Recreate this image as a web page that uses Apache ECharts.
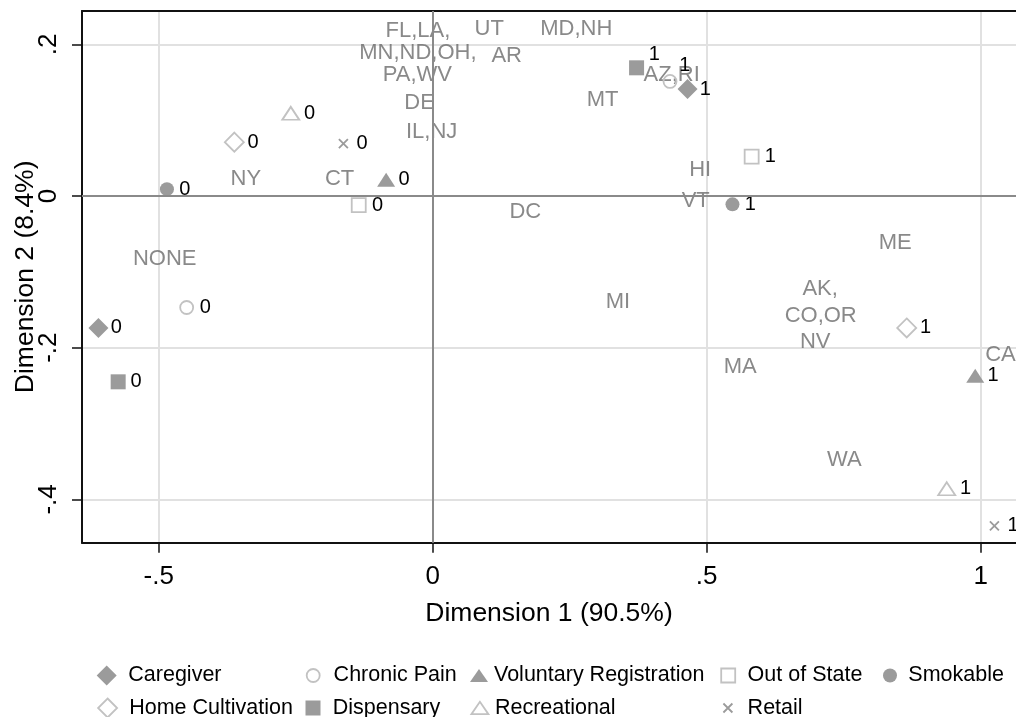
<!DOCTYPE html>
<html><head><meta charset="utf-8">
<script src="https://cdn.jsdelivr.net/npm/echarts@6/dist/echarts.min.js"></script>
<style>html,body{margin:0;padding:0;background:#fff}#c{width:1016px;height:717px}</style>
</head><body><div id="c"></div>
<script>
// ---------- data ----------
const stateNames = ['FL,LA,','MN,ND,OH,','PA,WV','DE','IL,NJ','NY','CT','UT','MD,NH','AR','AZ,RI','MT','HI','VT','DC','ME','NONE','MI','AK,','CO,OR','NV','MA','CA','WA'];
const stateX = [-0.027,-0.027,-0.028,-0.024,-0.002,-0.341,-0.170,0.103,0.262,0.135,0.436,0.310,0.488,0.480,0.169,0.844,-0.489,0.338,0.707,0.708,0.698,0.561,1.036,0.751];
const stateY = [0.217,0.188,0.159,0.123,0.084,0.023,0.023,0.220,0.220,0.184,0.160,0.127,0.035,-0.006,-0.021,-0.062,-0.083,-0.140,-0.123,-0.158,-0.192,-0.226,-0.210,-0.348];

const categories = ['Caregiver','Home Cultivation','Chronic Pain','Dispensary','Voluntary Registration','Recreational','Out of State','Retail','Smokable'];
const pointLabels = ['0','1'];
const caregiverX = [-0.610, 0.465];       const caregiverY = [-0.174, 0.141];
const homeCultivationX = [-0.362, 0.865]; const homeCultivationY = [0.071, -0.174];
const chronicPainX = [-0.449, 0.433];     const chronicPainY = [-0.147, 0.151];
const dispensaryX = [-0.574, 0.372];      const dispensaryY = [-0.245, 0.169];
const voluntaryX = [-0.085, 0.990];       const voluntaryY = [0.0215, -0.237];
const recreationalX = [-0.259, 0.938];    const recreationalY = [0.109, -0.386];
const outOfStateX = [-0.135, 0.582];      const outOfStateY = [-0.012, 0.052];
const retailX = [-0.163, 1.025];          const retailY = [0.069, -0.435];
const smokableX = [-0.485, 0.547];        const smokableY = [0.009, -0.011];

const xTicks = [-0.5, 0, 0.5, 1];
const yTicks = [-0.4, -0.2, 0, 0.2];
const xTitle = 'Dimension 1 (90.5%)';
const yTitle = 'Dimension 2 (8.4%)';

// ---------- style ----------
const FONT = "'Liberation Sans', Arial, Helvetica, sans-serif";
const DARK = '#9b9b9b', LIGHT = '#c2c2c2';
const TRI = 'path://M9,0L18,13L0,13Z';
const XMARK = 'path://M0,0L10,10M10,0L0,10';
const catXY = {
  'Caregiver': [caregiverX, caregiverY],
  'Home Cultivation': [homeCultivationX, homeCultivationY],
  'Chronic Pain': [chronicPainX, chronicPainY],
  'Dispensary': [dispensaryX, dispensaryY],
  'Voluntary Registration': [voluntaryX, voluntaryY],
  'Recreational': [recreationalX, recreationalY],
  'Out of State': [outOfStateX, outOfStateY],
  'Retail': [retailX, retailY],
  'Smokable': [smokableX, smokableY]
};
const catStyle = {
  'Caregiver': {symbol:'diamond', size:20, fill:DARK, stroke:DARK, bw:0, w:20, legendIcon:'diamond', lh:20, cx:106.7, tx:128.3, row:0},
  'Home Cultivation': {symbol:'diamond', size:19, fill:'rgba(0,0,0,0)', stroke:LIGHT, bw:1.8, w:19, legendIcon:'diamond', lh:19, cx:106.7, tx:128.3, row:1},
  'Chronic Pain': {symbol:'circle', size:13, fill:'rgba(0,0,0,0)', stroke:LIGHT, bw:1.8, w:13, legendIcon:'circle', lh:13, cx:312.3, tx:332.7, row:0},
  'Dispensary': {symbol:'rect', size:15, fill:DARK, stroke:DARK, bw:0, w:15, legendIcon:'rect', lh:15, cx:313, tx:332.7, row:1},
  'Voluntary Registration': {symbol:'triangle', size:[18,14], fill:DARK, stroke:DARK, bw:0, w:18, legendIcon:TRI, lh:13, cx:479, tx:494, row:0},
  'Recreational': {symbol:'triangle', size:[17,13], fill:'rgba(0,0,0,0)', stroke:LIGHT, bw:1.8, w:17, legendIcon:TRI, lh:13, cx:479, tx:494, row:1},
  'Out of State': {symbol:'rect', size:14, fill:'rgba(0,0,0,0)', stroke:LIGHT, bw:1.8, w:14, legendIcon:'rect', lh:14, cx:727.3, tx:746.7, row:0},
  'Retail': {symbol:XMARK, size:9, fill:'rgba(0,0,0,0)', stroke:DARK, bw:1.8, w:9, legendIcon:XMARK, lh:9, cx:727, tx:746.7, row:1},
  'Smokable': {symbol:'circle', size:14, fill:DARK, stroke:DARK, bw:0, w:14, legendIcon:'circle', lh:14, cx:890, tx:908.3, row:0}
};
const labelOffsets = { 'Dispensary': {1:[0,-13]}, 'Chronic Pain': {1:[-4,-16]} };
const rowTop = [664.5, 697];

// axis extents from plot frame
const xMin = -0.640, xMax = 1.0644;
const yMin = -0.4571, yMax = 0.2439;

function stataFmt(v){
  if (Math.abs(v) < 1e-9) return '0';
  const s = String(Math.round(v*100)/100);
  return s.replace(/^(-?)0\./, '$1.');
}

const series = [];
// zero reference lines
series.push({
  type:'scatter', data:[], z:1, silent:true,
  markLine:{silent:true, symbol:['none','none'], label:{show:false}, animation:false,
    lineStyle:{color:'#8a8a8a', width:2, type:'solid'},
    emphasis:{disabled:true},
    data:[{xAxis:0},{yAxis:0}]}
});
// states (labels only)
series.push({
  type:'scatter', name:'states', z:3, silent:true,
  symbolSize:1, itemStyle:{color:'rgba(0,0,0,0)'},
  label:{show:true, position:'inside', formatter:p=>p.data[2], color:'#6b6b6b', fontSize:22, fontFamily:FONT},
  data: stateNames.map((n,i)=>[stateX[i], stateY[i], n])
});
categories.forEach(c=>{
  const st = catStyle[c];
  const [xs, ys] = catXY[c];
  const off = labelOffsets[c] || {};
  series.push({
    type:'scatter', name:c, z:4,
    symbol: st.symbol, symbolSize: st.size,
    itemStyle:{color:st.fill, borderColor:st.stroke, borderWidth:st.bw, opacity:1},
    label:{show:true, position:'right', distance: Math.max(0, 12.3 - st.w/2), formatter:p=>p.data.value ? p.data.value[2] : p.data[2],
      color:'#000', fontSize:20, fontFamily:FONT},
    data: xs.map((x,i)=>{
      const v = [x, ys[i], pointLabels[i]];
      return off[i] ? {value:v, label:{offset:off[i]}} : {value:v};
    })
  });
});

const legends = categories.map(c=>{
  const st = catStyle[c];
  const pad = Math.max(0, st.tx - st.cx - st.w/2 - 5);
  return {
    show:true, orient:'horizontal', padding:0, selectedMode:false,
    left: st.cx - st.w/2, top: rowTop[st.row],
    itemWidth: st.w, itemHeight: st.lh, symbolKeepAspect:true,
    textStyle:{fontSize:21.5, color:'#000', fontFamily:FONT, padding:[0,0,0,pad]},
    data:[{name:c, icon:st.legendIcon, itemStyle:{color:st.fill, borderColor:st.stroke, borderWidth:st.bw}}]
  };
});

const axisLineStyle = {color:'#111', width:2};
const option = {
  backgroundColor:'#fff',
  animation:false,
  textStyle:{fontFamily:FONT},
  grid:{left:82, top:11, right:0, bottom:174.3, containLabel:false, outerBoundsMode:'none'},
  legend: legends,
  xAxis:[{
    type:'value', position:'bottom', min:xMin, max:xMax,
    axisLine:{show:true, onZero:false, lineStyle:axisLineStyle},
    axisTick:{show:true, length:10, customValues:xTicks, lineStyle:{color:'#111', width:1.5}},
    axisLabel:{customValues:xTicks, formatter:stataFmt, fontSize:26, color:'#000', margin:21, fontFamily:FONT},
    splitLine:{show:true, lineStyle:{color:'#e1e1e1', width:2}},
    name:xTitle, nameLocation:'middle', nameGap:57, nameMoveOverlap:false,
    nameTextStyle:{fontSize:26.5, color:'#000', fontFamily:FONT}
  },{
    type:'value', position:'top', min:xMin, max:xMax,
    axisLine:{show:true, onZero:false, lineStyle:axisLineStyle},
    axisTick:{show:false}, axisLabel:{show:false}, splitLine:{show:false}
  }],
  yAxis:[{
    type:'value', min:yMin, max:yMax,
    axisLine:{show:true, onZero:false, lineStyle:axisLineStyle},
    axisTick:{show:true, length:10, customValues:yTicks, lineStyle:{color:'#111', width:1.5}},
    axisLabel:{customValues:yTicks, formatter:stataFmt, rotate:90, fontSize:26, color:'#000', margin:20, fontFamily:FONT},
    splitLine:{show:true, lineStyle:{color:'#e1e1e1', width:2}},
    name:yTitle, nameLocation:'middle', nameGap:43, nameRotate:90, nameMoveOverlap:false,
    nameTextStyle:{fontSize:26.5, color:'#000', fontFamily:FONT}
  }],
  series: series
};
const chart = echarts.init(document.getElementById('c'), null, {renderer:'canvas'});
chart.setOption(option);
</script>
</body></html>
